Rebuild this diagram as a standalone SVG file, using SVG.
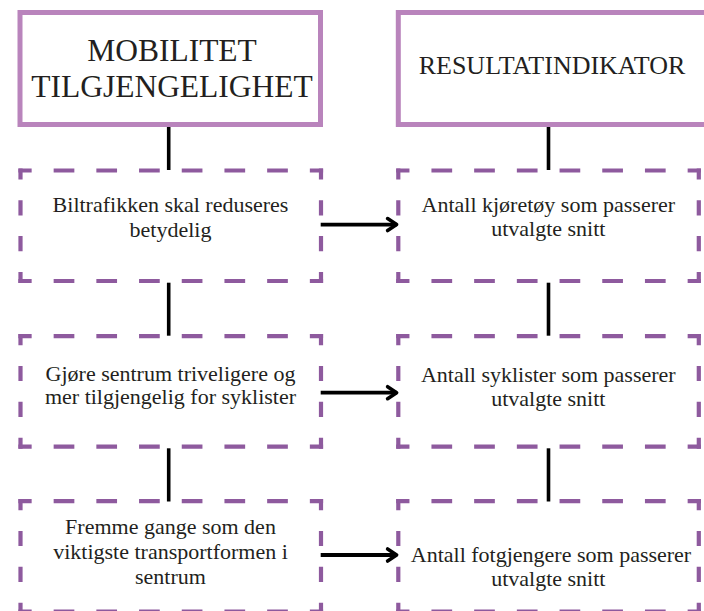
<svg xmlns="http://www.w3.org/2000/svg" xmlns:xlink="http://www.w3.org/1999/xlink" width="704" height="611" viewBox="0 0 704 611">
<style>
.hdr{fill:#fff;stroke:#b984bc;stroke-width:5}
.dh{stroke:#8e5a9e;stroke-width:4.2;fill:none;stroke-dasharray:20.7 22;stroke-dashoffset:7.45}
.dv{stroke:#8e5a9e;stroke-width:4.2;fill:none;stroke-dasharray:15.2 20.7;stroke-dashoffset:4.1}
.t{font-family:"Liberation Serif","Times New Roman",serif;fill:#231f20;text-anchor:middle}
.h1{font-size:31.5px}
.h2{font-size:26px}
.b{font-size:22px}
.c{stroke:#000;stroke-width:3.6;fill:none}
.a{stroke:#000;stroke-width:3.8;fill:none;marker-end:url(#ah)}
</style>
<defs>
<marker id="ah" markerUnits="userSpaceOnUse" markerWidth="16" markerHeight="16" refX="12" refY="8" orient="auto" overflow="visible">
<path d="M3,2 L12,8 L3,14" fill="none" stroke="#000" stroke-width="3.6" stroke-linecap="round" stroke-linejoin="round"/>
</marker>
<g id="dbox">
<line class="dh" x1="-2.1" y1="0" x2="302.6" y2="0"/>
<line class="dh" x1="-2.1" y1="110.5" x2="302.6" y2="110.5"/>
<line class="dv" x1="0" y1="-2.1" x2="0" y2="112.6"/>
<line class="dv" x1="300.5" y1="-2.1" x2="300.5" y2="112.6"/>
</g>
</defs>
<rect width="704" height="611" fill="#fff"/>

<g id="connectors">
<line class="c" x1="168.7" y1="127" x2="168.7" y2="170"/>
<line class="c" x1="168.7" y1="282.7" x2="168.7" y2="335.7"/>
<line class="c" x1="168.7" y1="448.3" x2="168.7" y2="501.5"/>
<line class="c" x1="548.5" y1="127" x2="548.5" y2="170"/>
<line class="c" x1="548.5" y1="282.7" x2="548.5" y2="335.7"/>
<line class="c" x1="548.5" y1="448.3" x2="548.5" y2="501.5"/>
<line class="a" x1="320.7" y1="224.6" x2="396.6" y2="224.6"/>
<line class="a" x1="320.7" y1="392.7" x2="396.6" y2="392.7"/>
<line class="a" x1="320.7" y1="555" x2="396.6" y2="555"/>
</g>

<g id="hdr-left">
<rect class="hdr" x="20" y="12.5" width="300.5" height="112"/>
<text class="t h1" x="172" y="60.7">MOBILITET</text>
<text class="t h1" x="172" y="97.3">TILGJENGELIGHET</text>
</g>
<g id="hdr-right">
<rect class="hdr" x="398.3" y="12.5" width="340" height="112"/>
<text class="t h2" x="552" y="74">RESULTATINDIKATOR</text>
</g>

<g id="goal1">
<use xlink:href="#dbox" x="20.5" y="170.5"/>
<text class="t b" x="170.5" y="211.7">Biltrafikken skal reduseres</text>
<text class="t b" x="170.5" y="236.5">betydelig</text>
</g>
<g id="goal2">
<use xlink:href="#dbox" x="20.5" y="336.2"/>
<text class="t b" x="170.5" y="380.5">Gjøre sentrum triveligere og</text>
<text class="t b" x="170.5" y="404">mer tilgjengelig for syklister</text>
</g>
<g id="goal3">
<use xlink:href="#dbox" x="20.5" y="501.2"/>
<text class="t b" x="170.5" y="534">Fremme gange som den</text>
<text class="t b" x="170.5" y="558.5">viktigste transportformen i</text>
<text class="t b" x="170.5" y="584">sentrum</text>
</g>

<g id="ind1">
<use xlink:href="#dbox" x="398.3" y="170.5"/>
<text class="t b" x="548.3" y="211.7">Antall kjøretøy som passerer</text>
<text class="t b" x="548.3" y="235.5">utvalgte snitt</text>
</g>
<g id="ind2">
<use xlink:href="#dbox" x="398.3" y="336.2"/>
<text class="t b" x="548.3" y="381.7">Antall syklister som passerer</text>
<text class="t b" x="548.3" y="406">utvalgte snitt</text>
</g>
<g id="ind3">
<use xlink:href="#dbox" x="398.3" y="501.2"/>
<text class="t b" x="551" y="561.7">Antall fotgjengere som passerer</text>
<text class="t b" x="548.3" y="585.5">utvalgte snitt</text>
</g>
</svg>
